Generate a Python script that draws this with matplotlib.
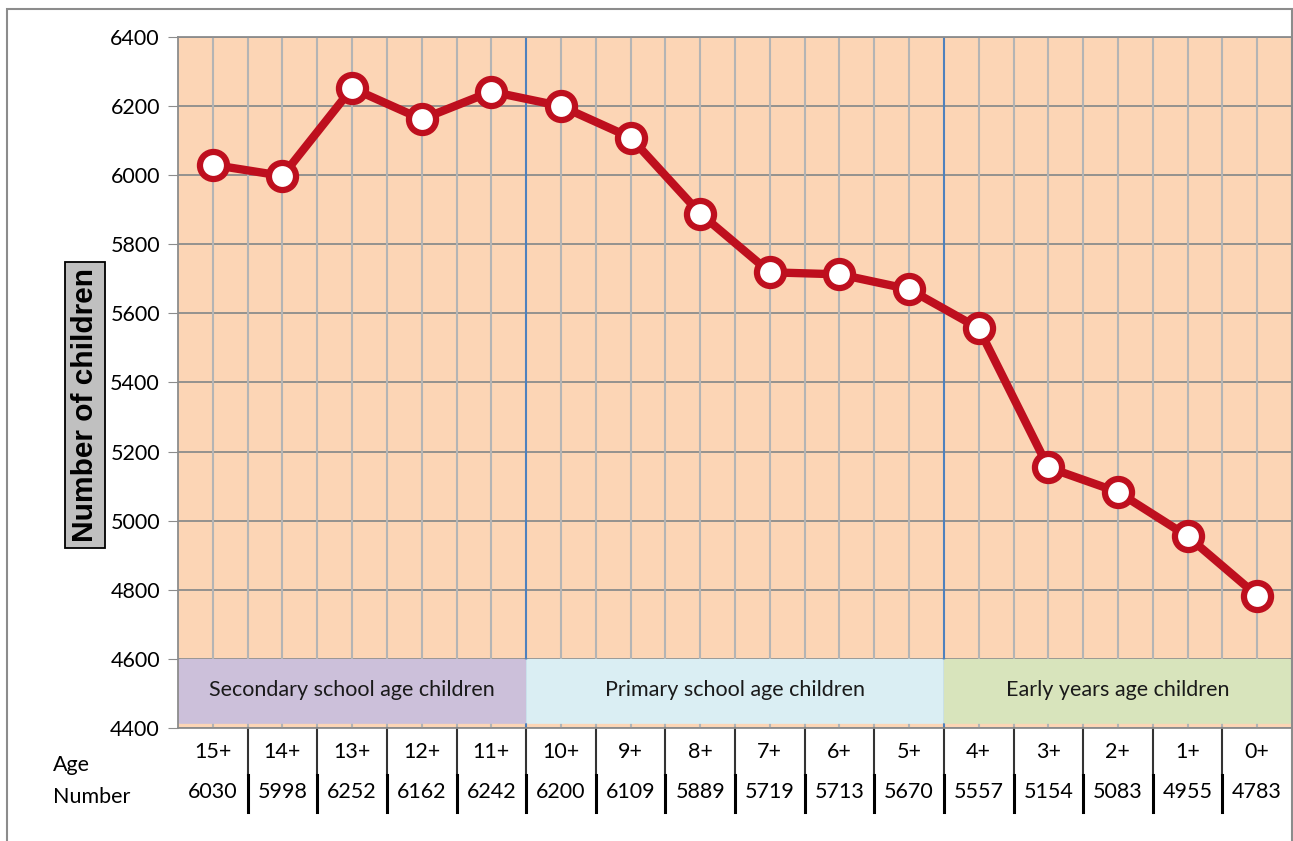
import matplotlib.pyplot as plt
from matplotlib.patches import FancyBboxPatch, Rectangle
from matplotlib.lines import Line2D

ages = ['15+', '14+', '13+', '12+', '11+', '10+', '9+', '8+', '7+', '6+', '5+',
        '4+', '3+', '2+', '1+', '0+']
counts = [6030, 5998, 6252, 6162, 6242, 6200, 6109, 5889, 5719, 5713, 5670,
          5557, 5154, 5083, 4955, 4783]

# age groups: label, first index, last index, colour
groups = ['Secondary school age children', 'Primary school age children',
          'Early years age children']
group_start = [0, 5, 11]
group_end = [4, 10, 15]
group_colors = ['#CCC0DA', '#DAEEF3', '#D8E4BC']

yticks = [4400, 4600, 4800, 5000, 5200, 5400, 5600, 5800, 6000, 6200, 6400]

plt.rcParams['font.family'] = ['Lato', 'DejaVu Sans']
fs = 15.5

fig = plt.figure(figsize=(12.93, 8.41), dpi=100)
ax = fig.add_axes([178 / 1293, 113 / 841, 1114 / 1293, 691 / 841])
ax.set_facecolor('#FCD5B5')
n = len(ages)
ax.set_xlim(-0.5, n - 0.5)
ax.set_ylim(4400, 6400)

# grid
for y in yticks:
    ax.axhline(y, color='#8C8C8C', lw=1.3, zorder=1)
for k in range(n):
    ax.axvline(k, color='#B4B4B4', lw=1.5, zorder=1)
for k in range(n - 1):
    b = k + 0.5
    if any(b == s - 0.5 for s in group_start[1:]):
        ax.axvline(b, color='#4F81BD', lw=1.5, zorder=1.2)
    else:
        ax.axvline(b, color='#B4B4B4', lw=1.5, zorder=1)

# group bands
for name, s, e, c in zip(groups, group_start, group_end, group_colors):
    ax.add_patch(FancyBboxPatch((s - 0.5, 4412), e - s + 1, 188,
                                boxstyle='round,pad=0,rounding_size=0.05',
                                mutation_aspect=60,
                                fc=c, ec='none', zorder=2))
    ax.text((s + e) / 2, 4510, name, ha='center', va='center',
            fontsize=fs, color='#1a1a1a', zorder=3)

ax.plot(range(n), counts, color='#BE0F1E', lw=6, marker='o', ms=19.5,
        mfc='white', mec='#BE0F1E', mew=4.5, zorder=4, clip_on=False)

ax.set_yticks(yticks)
ax.set_yticklabels([str(v) for v in yticks], fontsize=fs)
ax.set_xticks([])
ax.tick_params(axis='y', length=7, color='#8C8C8C', pad=6)
for side in ['left', 'top', 'right', 'bottom']:
    ax.spines[side].set_color('#8C8C8C')
    ax.spines[side].set_linewidth(1.3)

# data table under the axis
trans = ax.get_xaxis_transform()
for k in range(n):
    ax.text(k, -0.035, ages[k], transform=trans, ha='center', va='center',
            fontsize=fs, clip_on=False)
    ax.text(k, -0.093, str(counts[k]), transform=trans, ha='center',
            va='center', fontsize=fs, clip_on=False)
for k in range(n - 1):
    ax.add_line(Line2D([k + 0.5, k + 0.5], [0, -0.068], transform=trans,
                       color='#333333', lw=1.5, clip_on=False))
    ax.add_line(Line2D([k + 0.5, k + 0.5], [-0.068, -0.122], transform=trans,
                       color='black', lw=2.2, clip_on=False))
fig.text(53 / 1293, 1 - 765 / 841, 'Age', ha='left', va='center', fontsize=fs)
fig.text(53 / 1293, 1 - 797 / 841, 'Number', ha='left', va='center',
         fontsize=fs)

# y label in grey box
fig.text(85 / 1293, 1 - 405 / 841, 'Number of children', rotation=90,
         ha='center', va='center', fontsize=21.5, fontweight='bold',
         family=['Liberation Sans', 'DejaVu Sans'],
         bbox=dict(boxstyle='square,pad=0.2', fc='#C0C0C0', ec='black', lw=1.3))

# outer chart border
fig.add_artist(Rectangle((7 / 1293, -0.05), 1285 / 1293, 1 - 9 / 841 + 0.05,
                         transform=fig.transFigure, fill=False,
                         ec='#8C8C8C', lw=1.5))

fig.savefig('out.png', dpi=100)
